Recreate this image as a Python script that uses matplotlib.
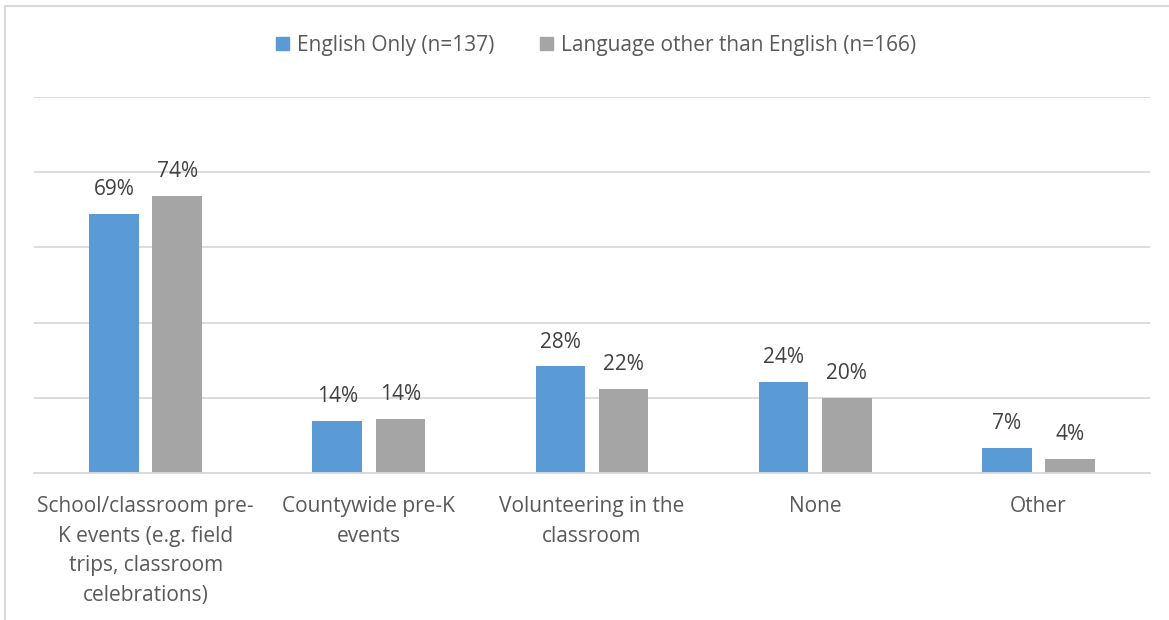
import matplotlib
matplotlib.use("Agg")
import matplotlib.pyplot as plt
from matplotlib.patches import Patch, Rectangle
import numpy as np

categories = ["School/classroom pre-\nK events (e.g. field\ntrips, classroom\ncelebrations)",
              "Countywide pre-K\nevents",
              "Volunteering in the\nclassroom",
              "None",
              "Other"]
english_only = [69.0, 13.8, 28.3, 24.1, 6.6]
other_lang = [73.8, 14.3, 22.2, 19.8, 3.6]
series_names = ["English Only (n=137)", "Language other than English (n=166)"]

blue = "#5B9BD5"
gray = "#A5A5A5"
txt = "#595959"
plt.rcParams['font.family'] = ['Open Sans', 'DejaVu Sans']

fig = plt.figure(figsize=(11.69, 6.2), dpi=100)
ax = fig.add_axes([34/1169, (620-472.7)/620, (1150-34)/1169, (472.7-97.3)/620])

x = np.arange(len(categories))
w = 0.222
off = 0.1417
b1 = ax.bar(x - off, english_only, w, color=blue)
b2 = ax.bar(x + off, other_lang, w, color=gray)
for bars, vals in ((b1, english_only), (b2, other_lang)):
    for b, v in zip(bars, vals):
        ax.annotate(f"{v:.0f}%", (b.get_x() + b.get_width()/2, v), xytext=(0, 10),
                    textcoords="offset points", ha="center", va="bottom",
                    fontsize=15, color="#404040")

ax.set_xlim(-0.5, len(categories) - 0.5)
ax.set_ylim(0, 100)
ax.set_yticks([0, 20, 40, 60, 80, 100])
ax.yaxis.grid(True, color="#D9D9D9", linewidth=1.3)
ax.set_axisbelow(True)
ax.tick_params(axis="y", left=False, labelleft=False)
ax.set_xticks(x)
ax.set_xticklabels(categories, fontsize=15, color=txt, linespacing=1.53)
ax.tick_params(axis="x", length=0, pad=17)
for s in ["top", "right", "left"]:
    ax.spines[s].set_visible(False)
ax.spines["bottom"].set_color("#D9D9D9")
ax.spines["bottom"].set_linewidth(1.3)

handles = [Patch(color=blue), Patch(color=gray)]
fig.legend(handles, series_names, loc="center", bbox_to_anchor=(596/1169, 1-45/620),
           ncol=2, frameon=False, fontsize=15, labelcolor=txt,
           handlelength=0.6, handleheight=0.6, handletextpad=0.4, columnspacing=2.2)

fig.patches.append(Rectangle((5/1169, -0.1), 1.2, 1.1 - 6/620, transform=fig.transFigure,
                             fill=False, edgecolor="#D9D9D9", linewidth=1.5))

fig.savefig("out.png", dpi=100)
